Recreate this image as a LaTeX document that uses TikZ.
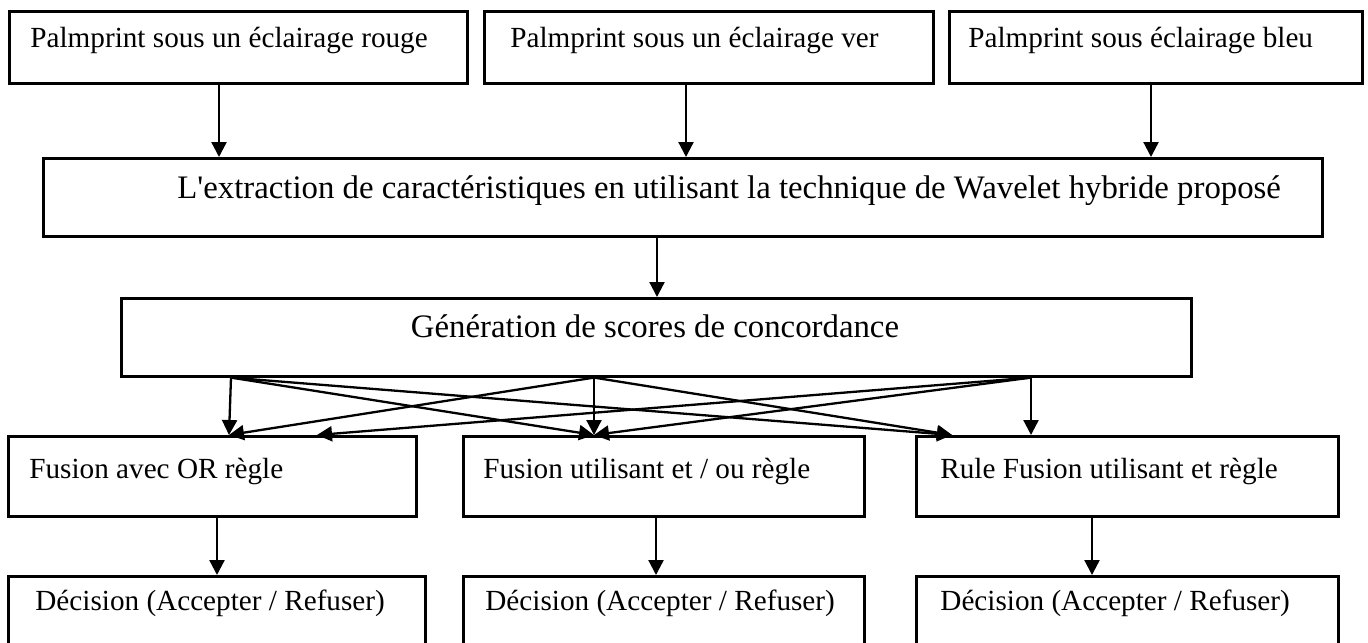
\documentclass[tikz,border=0pt]{standalone}
\usepackage{fontspec}
\setmainfont{Liberation Serif}
\usetikzlibrary{arrows.meta}
\tikzset{
  box/.style={draw, line width=1.3pt, rectangle, anchor=north west, inner sep=0pt},
  txt/.style={anchor=base west, inner sep=0pt, font=\fontsize{14.6}{17}\selectfont},
  bigtxt/.style={inner sep=0pt, font=\fontsize{16.4}{19}\selectfont},
  arr/.style={line width=1.15pt, -{Triangle[length=7.5pt,width=7.5pt]}},
}
\begin{document}
\begin{tikzpicture}[x=0.5pt,y=-0.5pt]
\useasboundingbox (0,0) rectangle (1368,642);
\clip (0,0) rectangle (1368,642);
% boxes
\node[box, minimum width=229pt, minimum height=36pt] (t1) at (8,10) {};
\node[box, minimum width=224.5pt, minimum height=36pt] (t2) at (483,10) {};
\node[box, minimum width=206.5pt, minimum height=36pt] (t3) at (948,10) {};
\node[box, minimum width=639.5pt, minimum height=39pt] (wav) at (42,157) {};
\node[box, minimum width=535pt, minimum height=39pt] (sc) at (120,297) {};
\node[box, minimum width=204pt, minimum height=40pt] (f1) at (7,435) {};
\node[box, minimum width=200.5pt, minimum height=40pt] (f2) at (462,435) {};
\node[box, minimum width=211pt, minimum height=40pt] (f3) at (915,435) {};
\node[box, minimum width=208.5pt, minimum height=42.5pt] (d1) at (7,575) {};
\node[box, minimum width=200.5pt, minimum height=42.5pt] (d2) at (462,575) {};
\node[box, minimum width=211pt, minimum height=42.5pt] (d3) at (915,575) {};
% texts
\node[txt] (t1l) at (30,48) {Palmprint sous un éclairage rouge};
\node[txt] (t2l) at (510,48) {Palmprint sous un éclairage ver};
\node[txt] (t3l) at (968,48) {Palmprint sous éclairage bleu};
\node[bigtxt, anchor=base west] (wavl) at (177,198) {L\textquotesingle extraction de caractéristiques en utilisant la technique de Wavelet hybride proposé};
\node[bigtxt, anchor=base] (scl) at (655,337) {Génération de scores de concordance};
\node[txt] (f1l) at (29,478) {Fusion avec OR règle};
\node[txt] (f2l) at (483,478) {Fusion utilisant et / ou règle};
\node[txt] (f3l) at (940,478) {Rule Fusion utilisant et règle};
\node[txt] (d1l) at (35,610) {Décision (Accepter / Refuser)};
\node[txt] (d2l) at (485,610) {Décision (Accepter / Refuser)};
\node[txt] (d3l) at (940,610) {Décision (Accepter / Refuser)};
% x positions of connectors
\coordinate (xa) at (219,0);
\coordinate (xb) at (686,0);
\coordinate (xc) at (1151,0);
\coordinate (xw) at (657,0);
\coordinate (s1) at (231,0);
\coordinate (s2) at (594,0);
\coordinate (s3) at (1031,0);
\coordinate (g1) at (229,0);
\coordinate (g1b) at (317,0);
\coordinate (g2) at (594,0);
\coordinate (g3) at (952,0);
\coordinate (g3v) at (1031,0);
\coordinate (ya) at (217,0);
\coordinate (yb) at (656,0);
\coordinate (yc) at (1092,0);
% connectors
\draw[arr] (t1.south -| xa) -- (wav.north -| xa);
\draw[arr] (t2.south -| xb) -- (wav.north -| xb);
\draw[arr] (t3.south -| xc) -- (wav.north -| xc);
\draw[arr] (wav.south -| xw) -- (sc.north -| xw);
\draw[arr] (sc.south -| s1) -- (f1.north -| g1);
\draw[arr] (sc.south -| s1) -- (f2.north -| g2);
\draw[arr] (sc.south -| s1) -- (f3.north -| g3);
\draw[arr] (sc.south -| s2) -- (f1.north -| g1);
\draw[arr] (sc.south -| s2) -- (f2.north -| g2);
\draw[arr] (sc.south -| s2) -- (f3.north -| g3);
\draw[arr] (sc.south -| s3) -- (f1.north -| g1b);
\draw[arr] (sc.south -| s3) -- (f2.north -| g2);
\draw[arr] (sc.south -| s3) -- (f3.north -| g3v);
\draw[arr] (f1.south -| ya) -- (d1.north -| ya);
\draw[arr] (f2.south -| yb) -- (d2.north -| yb);
\draw[arr] (f3.south -| yc) -- (d3.north -| yc);
\end{tikzpicture}
\end{document}
